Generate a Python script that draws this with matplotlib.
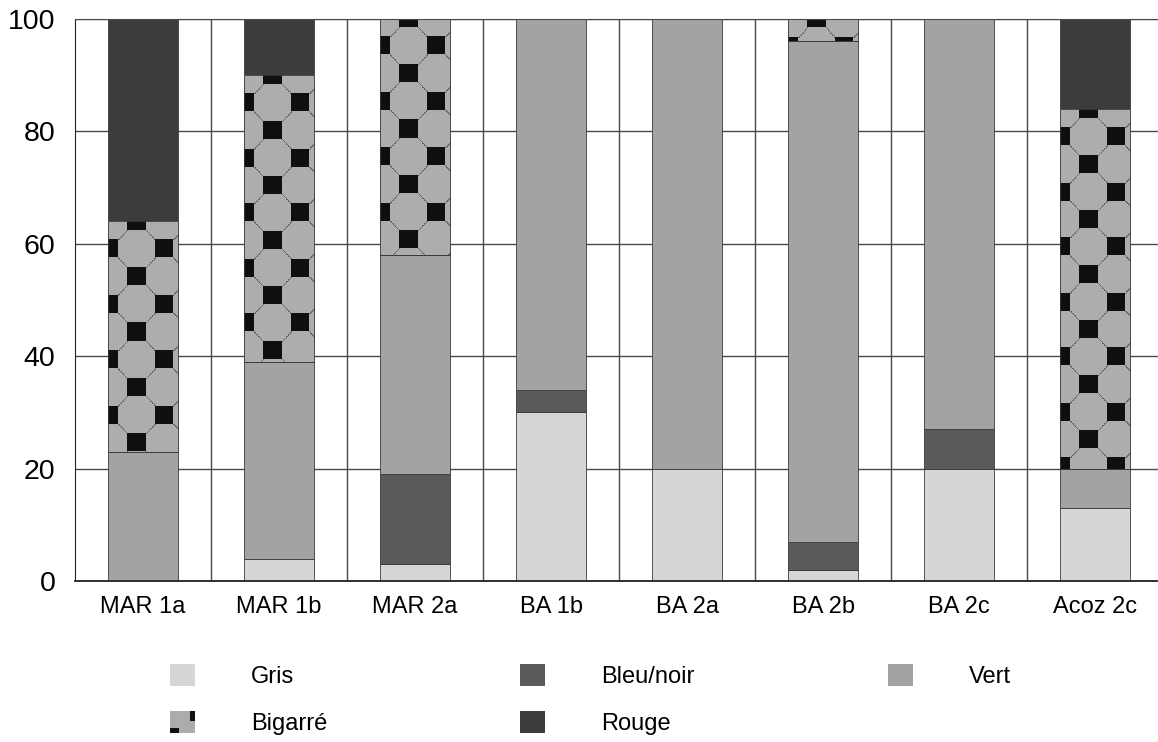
import numpy as np
import matplotlib
matplotlib.use("Agg")
import matplotlib.pyplot as plt
from matplotlib.patches import Rectangle
from matplotlib.legend_handler import HandlerBase

plt.rcParams['font.family'] = ['Liberation Sans', 'DejaVu Sans']

categories = ['MAR 1a', 'MAR 1b', 'MAR 2a', 'BA 1b', 'BA 2a', 'BA 2b', 'BA 2c', 'Acoz 2c']
gris      = [0, 4, 3, 30, 20, 2, 20, 13]
bleu_noir = [0, 0, 16, 4, 0, 5, 7, 0]
vert      = [23, 35, 39, 66, 80, 89, 73, 7]
bigarre   = [41, 51, 42, 0, 0, 4, 0, 64]
rouge     = [36, 10, 0, 0, 0, 0, 0, 16]
series_names = ['Gris', 'Bleu/noir', 'Vert', 'Bigarré', 'Rouge']
yticks = [0, 20, 40, 60, 80, 100]

colors = {'Gris': '#d6d6d6', 'Bleu/noir': '#5a5a5a', 'Vert': '#a3a3a3',
          'Bigarré': '#acacac', 'Rouge': '#3c3c3c'}

W_PX, H_PX, DPI = 1158, 742, 100
fig = plt.figure(figsize=(W_PX / DPI, H_PX / DPI), dpi=DPI)
ax = fig.add_axes([75 / W_PX, 161 / H_PX, (W_PX - 75) / W_PX, (581 - 19) / H_PX])

x = np.arange(len(categories))
data = [gris, bleu_noir, vert, bigarre, rouge]
bottom = np.zeros(len(categories))
containers = {}
for name, vals in zip(series_names, data):
    vals = np.array(vals, dtype=float)
    c = ax.bar(x, vals, width=0.515, bottom=bottom, color=colors[name],
               edgecolor='#3a3a3a', linewidth=0.6, label=name, zorder=2)
    containers[name] = c
    bottom += vals

xmax = -0.5 + (W_PX - 75) / 136.0
ax.set_xlim(-0.5, xmax)
ax.set_ylim(0, 100)
ax.set_yticks(yticks)
ax.set_xticks(x)
ax.set_xticklabels(categories, fontsize=17)
ax.tick_params(axis='y', labelsize=20.5, length=0, pad=14)
ax.tick_params(axis='x', length=0, pad=11)
ax.set_xticks(np.arange(len(categories)) + 0.5, minor=True)
ax.tick_params(which='minor', length=0)
ax.set_axisbelow(True)
ax.grid(axis='y', which='major', color='#4a4a4a', linewidth=1.0)
ax.grid(axis='x', which='minor', color='#4a4a4a', linewidth=1.0)
ax.grid(axis='x', which='major', visible=False)
ax.spines['right'].set_visible(False)
ax.spines['top'].set_color('#4a4a4a')
ax.spines['left'].set_color('#222222')
ax.spines['bottom'].set_color('#222222')
ax.spines['bottom'].set_linewidth(1.3)
for s in ax.spines.values():
    s.set_zorder(4)

# Bigarré texture (octagon/square pattern) drawn inside each Bigarré segment
fig.canvas.draw()
base = np.array([0.68, 0.68, 0.68])
sq_col = np.array([0.06, 0.06, 0.06])
ln_col = np.array([0.42, 0.42, 0.42])
sx, sy, half = 27.2, 27.5, 9.0
for rect in containers['Bigarré']:
    h = rect.get_height()
    if h <= 0:
        continue
    bb = rect.get_window_extent()
    Wp = max(int(round(bb.width)), 1)
    Hp = max(int(round(bb.height)), 1)
    arr = np.ones((Hp, Wp, 3)) * base

    def setpix(px, py, col):
        ix, iy = int(round(px)), int(round(py))
        if 0 <= ix < Wp and 0 <= iy < Hp:
            arr[iy, ix] = col

    nj = int(Hp / sy) + 3
    ni = int(Wp / sx) + 3
    for j in range(-2, nj):
        for i in range(-3, ni):
            if (i + j) % 2:
                continue
            cx = 28 + i * sx
            cy = j * sy
            for di in (-1, 1):
                for dj in (-1, 1):
                    for t in np.linspace(0, 1, 24):
                        px = cx + half * di + t * (sx - 2 * half) * di
                        py = cy + half * dj + t * (sy - 2 * half) * dj
                        setpix(px, py, ln_col)
    for j in range(-2, nj):
        for i in range(-3, ni):
            if (i + j) % 2:
                continue
            cx = 28 + i * sx
            cy = j * sy
            x0, x1 = int(round(cx - half)), int(round(cx + half))
            y0, y1 = int(round(cy - half)), int(round(cy + half))
            x0c, x1c = max(x0, 0), min(x1, Wp)
            y0c, y1c = max(y0, 0), min(y1, Hp)
            if x1c > x0c and y1c > y0c:
                arr[y0c:y1c, x0c:x1c] = sq_col
    x_left = rect.get_x()
    ax.imshow(arr, extent=(x_left, x_left + rect.get_width(), rect.get_y(), rect.get_y() + h),
              origin='upper', aspect='auto', interpolation='nearest', zorder=2.5)
    ax.add_patch(Rectangle((x_left, rect.get_y()), rect.get_width(), h, fill=False,
                           edgecolor='#3a3a3a', linewidth=0.6, zorder=2.6))

ax.set_xlim(-0.5, xmax)
ax.set_ylim(0, 100)


class BigarreHandler(HandlerBase):
    def create_artists(self, legend, orig_handle, xdescent, ydescent, width, height, fontsize, trans):
        x0, y0 = -xdescent, -ydescent
        base_r = Rectangle((x0, y0), width, height, facecolor=colors['Bigarré'],
                           edgecolor='none', transform=trans)
        s1 = Rectangle((x0 + width * 0.78, y0 + height * 0.55), width * 0.22, height * 0.45,
                       facecolor='#111111', edgecolor='none', transform=trans)
        s2 = Rectangle((x0, y0), width * 0.35, height * 0.25,
                       facecolor='#111111', edgecolor='none', transform=trans)
        return [base_r, s1, s2]


order = ['Gris', 'Bigarré', 'Bleu/noir', 'Rouge', 'Vert']
proxy = {}
for n in order:
    proxy[n] = Rectangle((0, 0), 1, 1, facecolor=colors[n], edgecolor='none')
hmap = {proxy['Bigarré']: BigarreHandler()}
leg = fig.legend([proxy[n] for n in order], order, loc='upper left',
                 bbox_to_anchor=(170 / W_PX, 1 - 664 / H_PX), ncol=3, frameon=False,
                 fontsize=17, handlelength=1.06, handleheight=1.06, handletextpad=2.37,
                 columnspacing=8.18, labelspacing=0.98, borderpad=0, borderaxespad=0,
                 handler_map=hmap)

fig.savefig('out.png', dpi=DPI)
